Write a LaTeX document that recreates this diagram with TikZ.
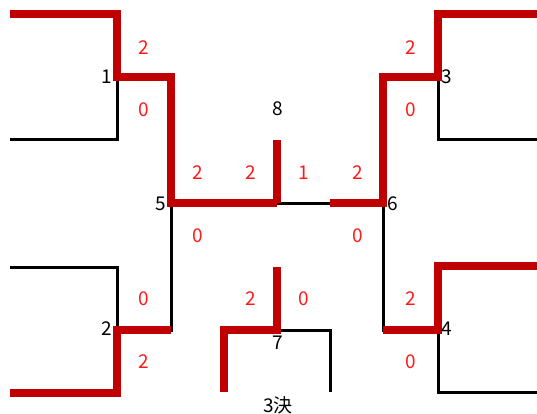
\documentclass[tikz,border=0pt]{standalone}
\usepackage{fontspec}
\setmainfont{Noto Sans CJK JP}
\usepackage{tikz}
\usetikzlibrary{positioning}
\definecolor{winred}{HTML}{C00000}
\definecolor{scorered}{HTML}{FF1A1A}
\tikzstyle{win} = [line width=7.5pt, color=winred]
\tikzstyle{lose} = [line width=3pt, black]
\tikzstyle{team} = [inner sep=0pt, text=black, font=\fontsize{19}{21}\selectfont]
\tikzstyle{score} = [inner sep=0pt, text=scorered, font=\fontsize{19}{21}\selectfont]

\begin{document}
\begin{tikzpicture}[x=1pt, y=-1pt]
        \useasboundingbox (0,0) rectangle (537,414);
        % bracket points
        \coordinate (t1) at (117,77);  \coordinate (e1a) at (10,14);  \coordinate (e1b) at (10,140);
        \coordinate (t2) at (117,330); \coordinate (e2a) at (10,267); \coordinate (e2b) at (10,393);
        \coordinate (t3) at (438,77);  \coordinate (e3a) at (537,14); \coordinate (e3b) at (537,140);
        \coordinate (t4) at (438,330); \coordinate (e4a) at (537,266); \coordinate (e4b) at (537,392);
        \coordinate (m5) at (171,203); \coordinate (m6) at (383,203);
        \coordinate (j2) at (171,330); \coordinate (j4) at (383,330);
        \coordinate (c8) at (277,203); \coordinate (c8top) at (277,140); \coordinate (k6) at (330,203);
        \coordinate (m7) at (277,330); \coordinate (c7top) at (277,267);
        \coordinate (l7) at (224,392); \coordinate (r7) at (330,392);

        % losing lines
        \draw[lose] (t1) |- (e1b);
        \draw[lose] (e2a) -| (t2) -| (m5);
        \draw[lose] (t3) |- (e3b);
        \draw[lose] (t4) -| (m6);
        \draw[lose] (t4) |- (e4b);
        \draw[lose] (m5) -- (m6);
        \draw[lose] (m7) -| (r7);

        % winning lines
        \draw[win] (e1a) -| (t1) -| (m5) -- (c8);
        \draw[win] (e2b) -| (t2) -- (j2);
        \draw[win] (e3a) -| (t3) -| (m6) -- (k6);
        \draw[win] (e4a) -| (t4) -- (j4);
        \draw[win] (c8top) -- (c8);
        \draw[win] (c7top) -- (m7) -| (l7);

        % team numbers
        \node[team] (n1) at (107,77) {1};
        \node[team] (n2) at (107,329) {2};
        \node[team] (n3) at (447,77) {3};
        \node[team] (n4) at (447,329) {4};
        \node[team] (n5) at (161,204) {5};
        \node[team] (n6) at (393,204) {6};
        \node[team] (n7) at (278,343) {7};
        \node[team] (n8) at (278,109) {8};
        \node[team] (n3rd) at (278,405) {3決};

        % scores
        \node[score] (s1a) at (144,48) {2};
        \node[score] (s1b) at (144,110) {0};
        \node[score] (s3a) at (411,48) {2};
        \node[score] (s3b) at (411,110) {0};
        \node[score] (s5a) at (198,173) {2};
        \node[score] (s5b) at (251,173) {2};
        \node[score] (s6a) at (304,173) {1};
        \node[score] (s6b) at (358,173) {2};
        \node[score] (s5c) at (198,236) {0};
        \node[score] (s6c) at (358,236) {0};
        \node[score] (s2a) at (144,299) {0};
        \node[score] (s2b) at (144,362) {2};
        \node[score] (s7a) at (251,299) {2};
        \node[score] (s7b) at (304,299) {0};
        \node[score] (s4a) at (411,299) {2};
        \node[score] (s4b) at (411,362) {0};
    \end{tikzpicture}
\end{document}
